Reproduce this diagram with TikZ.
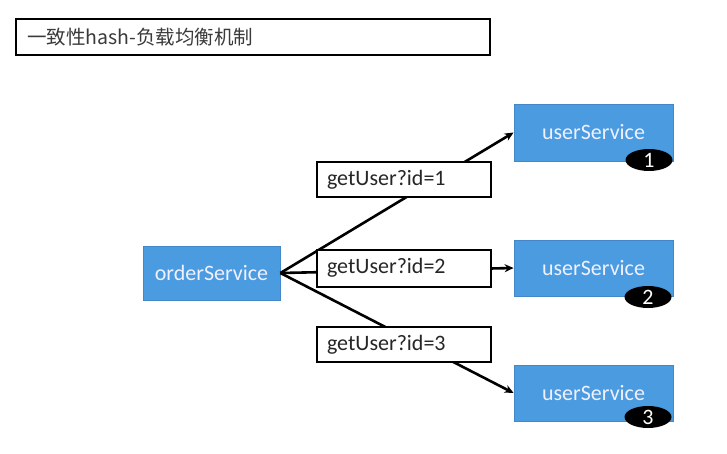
\documentclass[tikz,border=0pt]{standalone}
\usepackage{fontspec}
\setmainfont{Carlito}
\newfontfamily\cjk{Noto Sans CJK SC}
\usetikzlibrary{arrows.meta,shapes.geometric}
\definecolor{boxblue}{HTML}{4A9BE0}
\definecolor{boxedge}{HTML}{4387C8}
\definecolor{titletext}{HTML}{3A3A3A}
\begin{document}
\begin{tikzpicture}[x=1pt,y=-1pt,
  svc/.style={draw=boxedge,line width=0.8pt,fill=boxblue,text=white!94!blue,
    font=\fontsize{22}{26}\selectfont,inner sep=0pt},
  lbl/.style={draw=black,line width=2pt,fill=white,text=black!85,
    font=\fontsize{22}{26}\selectfont,minimum width=174,minimum height=35,
    text width=154,align=left,inner xsep=10pt,inner ysep=0pt},
  num/.style={ellipse,fill=black,text=white,minimum width=47,minimum height=22,
    inner sep=0pt,font=\fontsize{22}{22}\selectfont},
  conn/.style={line width=2.6pt,draw=black},
  arr/.style={conn,-{Stealth[length=9pt,width=8pt]}}]
\useasboundingbox[fill=white] (0,0) rectangle (727,453);
\node[draw=black,line width=2pt,minimum width=474,minimum height=36,
  text width=452,align=left,inner xsep=11pt,inner ysep=0pt,text=titletext,
  font=\cjk\fontsize{19.5}{22}\selectfont] (title) at (253,37) {一致性hash-负载均衡机制};
\node[svc,minimum width=137,minimum height=54] (order) at (211.5,273) {orderService};
\node[svc,minimum width=159,minimum height=57] (us1) at (593.5,132.5) {userService};
\node[svc,minimum width=159,minimum height=56] (us2) at (593.5,268) {userService};
\node[svc,minimum width=159,minimum height=56] (us3) at (593.5,393) {userService};
\draw[arr] (order.east) -- (us1.west);
\draw[arr] (order.east) -- (us2.west);
\draw[arr] (order.east) -- (us3.west);
\node[lbl] (l1) at (404,179.5) {getUser?id=1};
\node[lbl,minimum height=37] (l2) at (404,268) {getUser?id=2};
\node[lbl] (l3) at (404,344.5) {getUser?id=3};
\node[num] (n1) at (649,160) {1};
\node[num] (n2) at (648,297) {2};
\node[num] (n3) at (648,417) {3};
\end{tikzpicture}
\end{document}
